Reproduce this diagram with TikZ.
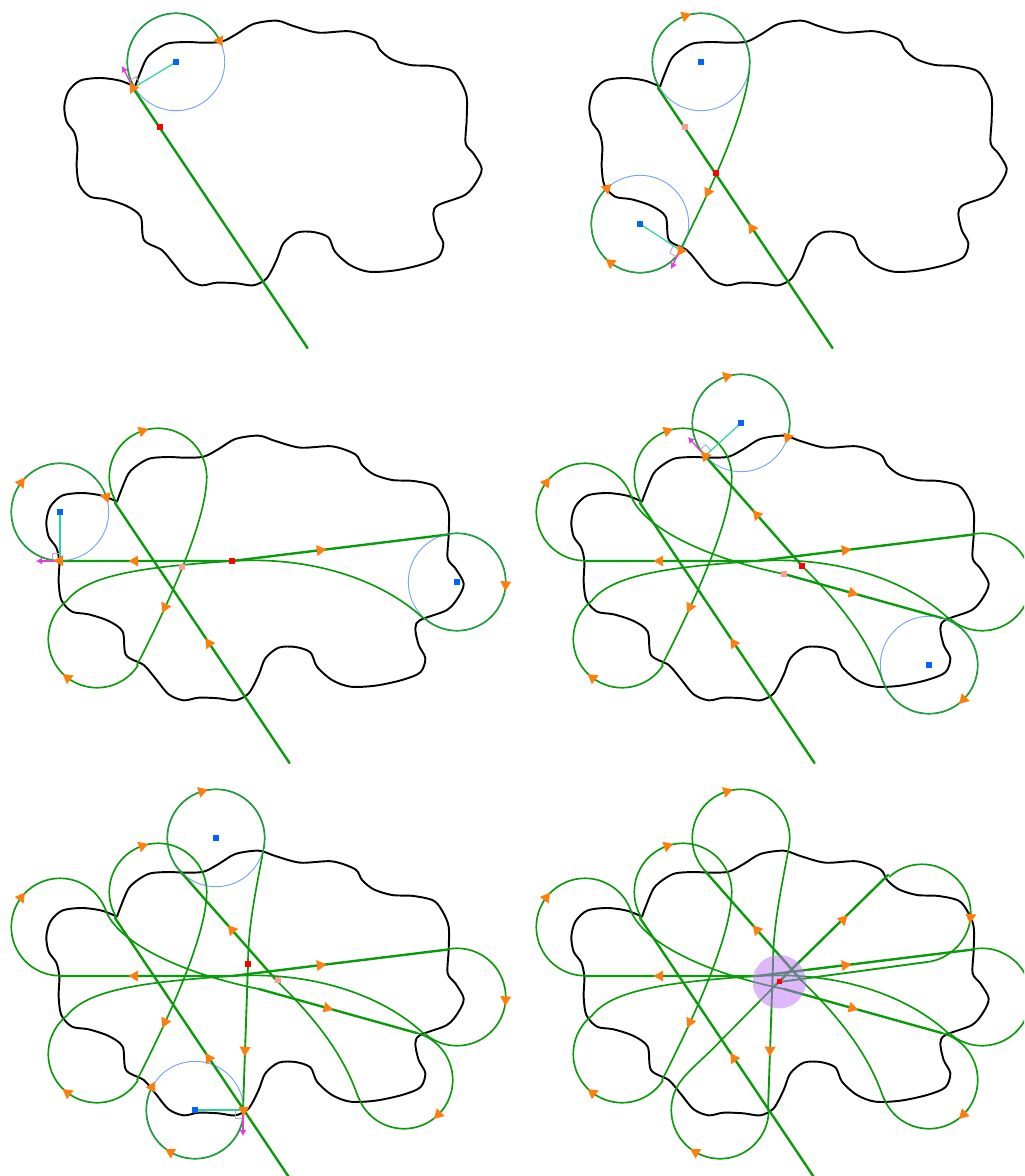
\documentclass[tikz,border=0pt]{standalone}
\usetikzlibrary{calc,arrows.meta}
\definecolor{gline}{HTML}{0B9A0B}
\definecolor{orangetri}{HTML}{FF7F0E}
\definecolor{bluecirc}{HTML}{6FA0FF}
\definecolor{centreblue}{HTML}{0064FF}
\definecolor{radiusteal}{HTML}{2FD39A}
\definecolor{magtan}{HTML}{E63BE0}
\definecolor{pinkpt}{HTML}{FF9A9A}
\definecolor{discpurple}{RGB}{189,113,247}
\tikzset{
  blobline/.style={black,line width=1.45pt,line join=round,line cap=round},
  gthick/.style={gline,line width=1.8pt,line cap=round},
  gthin/.style={gline,line width=1.25pt,line cap=round,line join=round},
  thinblue/.style={bluecirc,line width=0.6pt},
  radiusline/.style={radiusteal,line width=0.9pt},
  tanline/.style={magtan,line width=1pt,-{Latex[length=4.5pt,width=5.5pt]}},
  anglemark/.style={gray!60,line width=0.7pt},
}
% outline
\newcommand\Blob{%
\draw[blobline,shift={(40,0)},scale=0.33333] plot[smooth,tension=0.5] coordinates {
(285,260)(298,225)(320,175)(350,148)(385,130)(440,126)(490,128)(545,125)(590,102)(640,72)(710,62)(760,78)(835,98)(930,94)(1000,118)(1020,150)(1055,178)(1110,195)(1175,198)(1235,212)(1262,245)(1280,290)(1280,360)(1277,430)(1300,460)(1325,505)(1310,545)(1275,585)(1195,615)(1180,640)(1190,690)(1210,730)(1195,772)(1140,795)(1060,812)(985,815)(930,795)(885,755)(865,712)(820,696)(770,698)(730,730)(710,780)(680,835)(640,856)(590,850)(530,848)(485,856)(440,838)(400,790)(365,750)(312,720)(302,650)(260,618)(200,598)(150,590)(118,555)(110,500)(112,440)(103,398)(80,365)(73,320)(85,275)(120,242)(180,234)(240,242)(285,260)};}
% circle pieces: centre x, centre y, from angle, to angle (screen angles)
\newcommand\CArc[4]{\draw[gthin] plot[domain=#3:#4,samples=90,variable=\t] ({#1+48.7*cos(\t)},{#2+48.7*sin(\t)});}
\newcommand\BlueC[2]{\draw[thinblue] (#1-48.7,#2) arc[start angle=180,end angle=540,radius=48.7];}
\newcommand\BlueOver[2]{\draw[thinblue,opacity=0.35] (#1-48.7,#2) arc[start angle=180,end angle=540,radius=48.7];}
% orange triangles
\newcommand\Tri[3]{\fill[orangetri,shift={(#1,#2)},rotate=#3] (6.4,0) -- (-3.2,5.5) -- (-3.2,-5.5) -- cycle;}
\newcommand\TriC[3]{\pgfmathsetmacro\tx{#1+48.7*cos(#3)}\pgfmathsetmacro\ty{#2+48.7*sin(#3)}\pgfmathsetmacro\ta{-(#3)-90}\Tri{\tx}{\ty}{\ta}}
\newcommand\Sq[3]{\fill[#3] (#1-2.6,#2-2.6) rectangle (#1+2.6,#2+2.6);}
\newcommand\RedPt[2]{\Sq{#1}{#2}{red}}
\newcommand\PinkPt[2]{\Sq{#1}{#2}{pinkpt}}
\newcommand\CentrePt[2]{\Sq{#1}{#2}{centreblue}}
% contact construction: centre, contact point, tangent tip
\newcommand\Contact[6]{%
\coordinate (cc) at (#1,#2); \coordinate (pp) at (#3,#4); \coordinate (mm) at (#5,#6);
\path ($(pp)!6pt!(cc)$) coordinate (aa) ($(pp)!6pt!(mm)$) coordinate (bb);
\draw[anglemark] (aa) -- ($(aa)+(bb)-(pp)$) -- (bb);
\draw[radiusline] (cc) -- (pp);
\draw[tanline] (pp) -- (mm);
\CentrePt{#1}{#2}}
% cumulative green path
\newcommand\SegOne{%
\draw[gthick] (307.5,348) -- (133,88);
\CArc{176}{62}{149}{360}
\draw[gthin] (224.7,62) .. controls (224.7,110) and (178,205) .. (155,250);}
\newcommand\SegS{%
\CArc{115}{224}{33}{232}
\draw[gthin] (85,185.6) .. controls (105,160) and (160,152) .. (250,146)
   .. controls (330,141) and (400,165) .. (441,203);
\CArc{475}{167}{133}{-101}
\draw[gthick] (466,119.5) -- (250,146) -- (78,146);}
\newcommand\SegK{%
\CArc{78}{97}{90}{340}
\draw[gthin] (123.8,80.3) .. controls (135,112) and (198,143) .. (277,159);
\draw[gthick] (277,159) -- (434.7,203);
\CArc{422}{250}{285}{520}
\draw[gthin] (376,266.7) .. controls (362,226) and (335,190) .. (295,151);
\draw[gthick] (295,151) -- (198,41);}
\newcommand\SegV{%
\CArc{234}{8}{137}{370}
\draw[gthin] (282,16.5) .. controls (275,55) and (266,95) .. (266,134);
\draw[gthick,line width=1.4pt] (266,134) -- (261,280);}
\newcommand\SegZ{%
\CArc{213}{280}{0}{195}
\draw[gthin] (166,267.4) .. controls (170,250) and (185,239) .. (205,219.5) -- (266,157.6);
\draw[gthick] (266,157.6) -- (381,45);
\CArc{415}{83}{228}{412}
\draw[gthin] (445,121.4) .. controls (436,128.5) and (428,131) .. (420,132);
\draw[gthick,line width=1.4pt] (420,132) -- (272,152);}
% repeating arrow sets
\newcommand\TrisA{\TriC{176}{62}{251}\Tri{227}{228.4}{124}\Tri{183}{192}{245}\TriC{115}{224}{127}}
\newcommand\TrisB{\Tri{153}{146}{180}\Tri{338}{135.2}{7}\TriC{475}{167}{3}\TriC{78}{97}{217}}
\newcommand\TrisC{\Tri{345}{178}{-15}\TriC{422}{250}{45}\Tri{250}{100}{131}\TriC{234}{8}{253}}
\newcommand\TrisD{\Tri{263}{220}{268}\TriC{213}{280}{120}}
\begin{document}
\begin{tikzpicture}[x=0.75pt,y=-0.75pt]
\clip (0,0) rectangle (1024,1176);
\useasboundingbox (0,0) rectangle (1024,1176);
% panel 1
\begin{scope}[shift={(0,0)}]
\Blob
\BlueC{176}{62}
\draw[gthick] (307.5,348) -- (133,88);
\CArc{176}{62}{149}{334}
\BlueOver{176}{62}
\Contact{176}{62}{133}{88}{122}{66}
\RedPt{160}{127}
\Tri{133}{88}{124}
\TriC{176}{62}{334}
\end{scope}
% panel 2
\begin{scope}[shift={(525,0)}]
\Blob
\BlueC{176}{62}\BlueC{115}{224}
\SegOne
\CArc{115}{224}{33}{227}
\BlueOver{176}{62}\BlueOver{115}{224}
\CentrePt{176}{62}
\Contact{115}{224}{155}{250}{146}{269}
\PinkPt{160}{127}\RedPt{191}{173}
\TrisA
\TriC{115}{224}{227}
\TriC{115}{224}{33}
\end{scope}
% panel 3
\begin{scope}[shift={(-18,415)}]
\Blob
\BlueC{475}{167}\BlueC{78}{97}
\SegOne\SegS
\CArc{78}{97}{90}{342}
\BlueOver{475}{167}\BlueOver{78}{97}
\CentrePt{475}{167}
\Contact{78}{97}{78}{146}{54}{146}
\PinkPt{200}{152}\RedPt{250}{146}
\TrisA\TrisB
\TriC{78}{97}{342}
\TriC{78}{97}{90}
\end{scope}
% panel 4
\begin{scope}[shift={(507,415)}]
\Blob
\BlueC{234}{8}\BlueC{422}{250}
\SegOne\SegS\SegK
\CArc{234}{8}{137}{377}
\BlueOver{234}{8}\BlueOver{422}{250}
\CentrePt{422}{250}
\Contact{234}{8}{198}{41}{181}{22}
\PinkPt{277}{159}\RedPt{295}{151}
\TrisA\TrisB\TrisC
\TriC{234}{8}{377}
\TriC{234}{8}{137}
\end{scope}
% panel 5
\begin{scope}[shift={(-18,830)}]
\Blob
\BlueC{234}{8}\BlueC{213}{280}
\SegOne\SegS\SegK\SegV
\CArc{213}{280}{0}{208}
\BlueOver{234}{8}\BlueOver{213}{280}
\CentrePt{234}{8}
\Contact{213}{280}{261}{280}{261}{306}
\PinkPt{296}{150}\RedPt{266}{134}
\TrisA\TrisB\TrisC\TrisD
\TriC{213}{280}{208}
\TriC{213}{280}{0}
\end{scope}
% panel 6
\begin{scope}[shift={(507,830)}]
\Blob
\SegOne\SegS\SegK\SegV\SegZ
\fill[discpurple,opacity=0.5] (272.3,151.7) circle[radius=26.7];
\RedPt{272.3}{151.7}
\TrisA\TrisB\TrisC\TrisD
\Tri{336}{89.8}{45}
\TriC{415}{83}{5}
\end{scope}
\end{tikzpicture}
\end{document}
